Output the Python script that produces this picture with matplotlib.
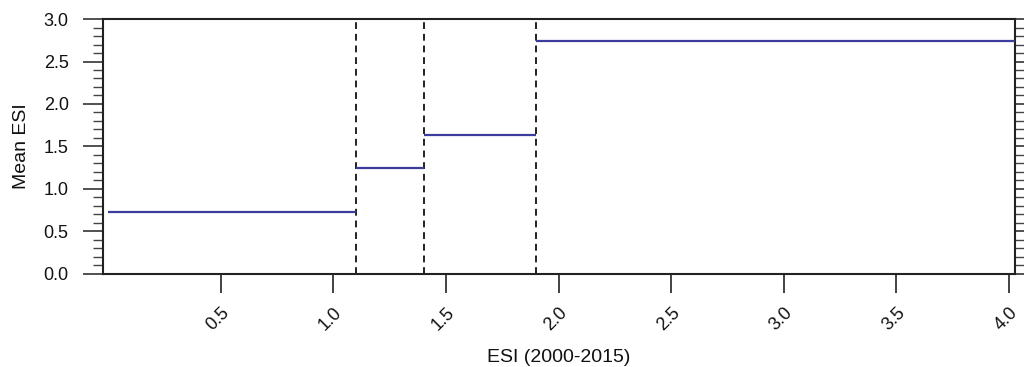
import numpy as np
import matplotlib.pyplot as plt
from matplotlib.ticker import MultipleLocator

plt.rcParams['font.family'] = ['Liberation Sans', 'DejaVu Sans']

# breakpoints of the step function and the mean ESI in each interval
breaks = [0.0, 1.1, 1.4, 1.9, 4.025]
mean_esi = [0.723, 1.245, 1.633, 2.744]
thresholds = [1.1, 1.4, 1.9]
xticks = [0.5, 1.0, 1.5, 2.0, 2.5, 3.0, 3.5, 4.0]
yticks = [0.0, 0.5, 1.0, 1.5, 2.0, 2.5, 3.0]

fig = plt.figure(figsize=(10.24, 3.67), dpi=100)
ax = fig.add_axes([0.1009, 0.2542, 0.89, 0.6938])

for i in range(len(mean_esi)):
    ax.plot([breaks[i], breaks[i + 1]], [mean_esi[i], mean_esi[i]],
            color='#3c3c9c', linewidth=1.6, solid_capstyle='butt', zorder=3)

for t in thresholds:
    ax.axvline(t, color='#222222', linestyle=(0, (3.5, 2.5)), linewidth=1.4, zorder=2)

ax.set_xlim(-0.022, 4.025)
ax.set_ylim(0, 3.0)
ax.set_xticks(xticks)
ax.set_xticklabels(['%.1f' % v for v in xticks], rotation=45, ha='right',
                   va='top', rotation_mode='anchor')
ax.set_yticks(yticks)
ax.set_yticklabels(['%.1f' % v for v in yticks])
ax.yaxis.set_minor_locator(MultipleLocator(0.1))

ax.tick_params(axis='x', which='major', direction='out', length=14, width=1.2,
               labelsize=13, pad=8, colors='#222222', labelcolor='#111111')
ax.tick_params(axis='y', which='major', direction='out', length=14.4, width=1.2,
               labelsize=13, pad=10.5, right=True, colors='#333333', labelcolor='#111111')
ax.tick_params(axis='y', which='minor', direction='out', length=7.2, width=1.0,
               right=True, colors='#444444')

for side in ['left', 'right', 'top', 'bottom']:
    ax.spines[side].set_linewidth(1.5)
    ax.spines[side].set_color('#222222')

ax.set_xlabel('ESI (2000-2015)', fontsize=14, labelpad=11, color='#111111')
ax.set_ylabel('Mean ESI', fontsize=14, labelpad=10, color='#111111')

fig.savefig('out.png', dpi=100)
